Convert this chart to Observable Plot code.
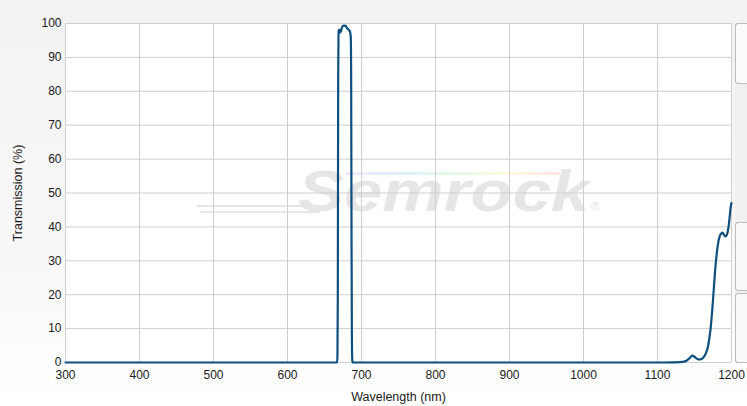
<!DOCTYPE html>
<html>
<head>
<meta charset="utf-8">
<script src="https://cdn.jsdelivr.net/npm/d3@7"></script>
<script src="https://cdn.jsdelivr.net/npm/@observablehq/plot@0.6"></script>
<style>
  html, body { margin: 0; padding: 0; }
  body { width: 747px; height: 406px; overflow: hidden;
         background: linear-gradient(180deg, #f2f2f2 0%, #f8f8f8 65%, #ffffff 100%);
         font-family: "Liberation Sans", Arial, sans-serif; }
  #wrap { position: relative; width: 747px; height: 406px; }
  .abs { position: absolute; }
  #plotbg { left: 65px; top: 23px; width: 666px; height: 339px; background: #fff; }
  #wm { left: 298px; top: 158px; font-weight: bold; font-style: italic; font-size: 57px;
        color: #e6e6e6; transform-origin: left top; transform: scaleX(1.21); white-space: nowrap; }
  #wmreg { left: 591px; top: 200px; font-size: 11px; color: #e3e3e3; }
  .swoosh { height: 2px; background: #e6e6e6; }
  #rainbow { left: 345px; top: 172px; width: 215px; height: 3px;
     background: linear-gradient(90deg, rgba(190,170,255,0.25), rgba(150,200,255,0.3), rgba(160,240,170,0.3), rgba(255,240,150,0.3), rgba(255,170,170,0.3)); }
  #chart { left: 0; top: 0; }
  .panel { border: 1px solid #bcbcbc; border-right: none; border-radius: 3px 0 0 3px; }
</style>
</head>
<body>
<div id="wrap">
  <div class="abs" style="left:735px; top:83px; width:12px; height:279px; background:#f0f0f0;"></div>
  <div class="abs panel" style="left:735px; top:23px; width:12px; height:59px; background:#fbfbfb;"></div>
  <div class="abs panel" style="left:735px; top:222px; width:12px; height:67px; background:#f9f9f9;"></div>
  <div class="abs panel" style="left:735px; top:293px; width:12px; height:68px; background:#f9f9f9;"></div>
  <div id="plotbg" class="abs"></div>
  <div class="abs swoosh" style="left:197px; top:205px; width:125px;"></div>
  <div class="abs swoosh" style="left:200px; top:211px; width:120px;"></div>
  <div id="rainbow" class="abs"></div>
  <div id="wm" class="abs">Semrock</div>
  <div id="wmreg" class="abs">®</div>
  <div id="chart" class="abs"></div>
</div>
<script>
// Wavelength (nm)
const wavelengths = [
  300, 400, 500, 600, 650, 660, 665, 666, 667, 667.5, 668, 668.5, 669, 670, 671, 672, 673, 674,
  675, 676, 677, 678, 679, 680, 681, 682, 683, 684, 685, 685.5, 686, 686.5, 687, 687.5,
  688, 689, 690, 700, 800, 900, 1000, 1100, 1120, 1130, 1138, 1143, 1147, 1150, 1154, 1158,
  1162, 1165, 1168, 1170, 1172, 1174, 1176, 1178, 1180, 1182, 1184, 1186, 1188, 1190,
  1192, 1194, 1196, 1198, 1199, 1200
];
// Transmission (%)
const transmission = [
  0, 0, 0, 0, 0, 0, 0, 0, 0, 2, 20, 85, 97.8, 98.2, 97.3, 97.6, 98.3, 99.0,
  99.3, 99.4, 99.3, 99.4, 99.2, 98.8, 98.5, 98.3, 98.1, 97.8, 97.0, 96, 85, 40, 8, 1,
  0, 0, 0, 0, 0, 0, 0, 0, 0.05, 0.1, 0.4, 1.2, 2.0, 1.7, 1.0, 0.9,
  1.5, 2.5, 4.5, 7, 10.5, 15.5, 21.5, 27.5, 32, 35.3, 37.2, 38.0, 38.3, 37.6,
  37.2, 37.8, 40, 44, 46, 47
];
const xTicks = [300, 400, 500, 600, 700, 800, 900, 1000, 1100, 1200];
const yTicks = [0, 10, 20, 30, 40, 50, 60, 70, 80, 90, 100];

const data = wavelengths.map((w, i) => ({w, t: transmission[i]}));

const chart = Plot.plot({
  width: 747,
  height: 406,
  marginLeft: 65,
  marginRight: 16,
  marginTop: 23,
  marginBottom: 44,
  style: {background: "transparent", fontFamily: "'Liberation Sans', Arial, sans-serif", fontSize: "12px", color: "#1a1a1a"},
  x: {domain: [300, 1200]},
  y: {domain: [0, 100]},
  marks: [
    Plot.gridX(xTicks, {stroke: "#cfcfcf", strokeOpacity: 1}),
    Plot.gridY(yTicks, {stroke: "#cfcfcf", strokeOpacity: 1}),
    Plot.ruleX([300], {stroke: "#cfcfcf"}),
    Plot.axisX(xTicks, {tickSize: 0, tickPadding: 8, fontSize: 12, tickFormat: d => String(d), label: "Wavelength (nm)", labelAnchor: "center", labelOffset: 38, labelArrow: "none"}),
    Plot.axisY(yTicks, {tickSize: 0, tickPadding: 4, fontSize: 12, tickFormat: d => String(d), label: "Transmission (%)", labelAnchor: "center", labelOffset: 52, labelArrow: "none"}),
    Plot.line(data, {x: "w", y: "t", stroke: "#0e4f7f", strokeWidth: 2.2, curve: "monotone-x"})
  ]
});
d3.select(chart).selectAll("g[aria-label='x-axis label'] text, g[aria-label='y-axis label'] text").style("font-size", "12.5px");
document.getElementById("chart").appendChild(chart);
</script>
</body>
</html>
